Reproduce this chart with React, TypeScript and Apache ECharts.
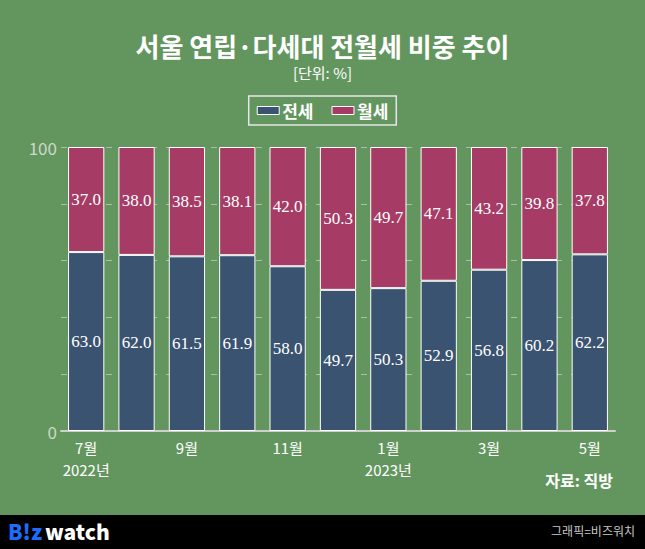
import React, { useEffect, useRef } from "react";
import * as echarts from "echarts";

const categories = ["7월\n2022년", "8월", "9월", "10월", "11월", "12월", "1월\n2023년", "2월", "3월", "4월", "5월"];
const jeonse = [63.0, 62.0, 61.5, 61.9, 58.0, 49.7, 50.3, 52.9, 56.8, 60.2, 62.2];
const wolse = [37.0, 38.0, 38.5, 38.1, 42.0, 50.3, 49.7, 47.1, 43.2, 39.8, 37.8];
const yTickLabels = ["0", "100"];

const BG = "#63965e";
const BLUE = "#3a5370";
const MAGENTA = "#a63c65";
const SANS = "'Noto Sans CJK KR', 'Noto Sans', sans-serif";
const SERIF = "'Liberation Serif', 'DejaVu Serif', serif";

export default function App() {
  const ref = useRef<HTMLDivElement>(null);
  useEffect(() => {
    if (!ref.current) return;
    const chart = echarts.init(ref.current, null, { renderer: "svg" });
    const labelStyle = {
      show: true,
      position: "inside",
      color: "#ffffff",
      fontFamily: SERIF,
      fontSize: 17,
      formatter: (p: any) => Number(p.value).toFixed(1),
    };
    chart.setOption({
      animation: false,
      backgroundColor: BG,
      title: {
        text: "서울 연립·다세대 전월세 비중 추이",
        subtext: "[단위: %]",
        left: "center",
        top: 27,
        itemGap: 7,
        textStyle: { color: "#ffffff", fontFamily: SANS, fontWeight: "bold", fontSize: 26 },
        subtextStyle: { color: "#ffffff", fontFamily: SANS, fontSize: 15 },
      },
      legend: {
        top: 96,
        left: "center",
        data: ["전세", "월세"],
        icon: "rect",
        itemWidth: 22,
        itemHeight: 8,
        itemGap: 18,
        borderColor: "#e6e6e6",
        borderWidth: 1.5,
        padding: [6, 8, 6, 8],
        textStyle: { color: "#ffffff", fontFamily: SANS, fontWeight: "bold", fontSize: 17, padding: [0, 0, 0, -2] },
        itemStyle: { borderColor: "#ffffff", borderWidth: 1 },
      },
      grid: { left: 61, right: 30, top: 147, bottom: 118 },
      xAxis: {
        type: "category",
        data: categories,
        axisLine: { show: true, lineStyle: { color: "#cfcfcf", width: 2 } },
        axisTick: { show: false },
        axisLabel: {
          interval: 1,
          color: "#ffffff",
          fontFamily: SANS,
          fontSize: 15,
          lineHeight: 22,
          margin: 5,
        },
      },
      yAxis: {
        type: "value",
        min: 0,
        max: 100,
        interval: 20,
        axisLine: { show: false },
        axisTick: { show: false },
        splitLine: { show: true, lineStyle: { color: "rgba(220,220,220,0.6)", type: [6, 9], width: 1 } },
        axisLabel: {
          color: "#cdd9c9",
          fontFamily: SANS,
          fontSize: 17,
          margin: 4,
          formatter: (v: number) => (yTickLabels.includes(String(v)) ? String(v) : ""),
        },
      },
      series: [
        {
          name: "전세",
          type: "bar",
          stack: "total",
          data: jeonse,
          barWidth: "72%",
          itemStyle: { color: BLUE, borderColor: "#ffffff", borderWidth: 1 },
          label: labelStyle,
        },
        {
          name: "월세",
          type: "bar",
          stack: "total",
          data: wolse,
          barWidth: "72%",
          itemStyle: { color: MAGENTA, borderColor: "#ffffff", borderWidth: 1 },
          label: labelStyle,
        },
      ],
      graphic: [
        {
          type: "text",
          right: 32,
          top: 472,
          style: { text: "자료: 직방", fill: "#ffffff", font: `bold 16px ${SANS}` },
        },
        {
          type: "rect",
          left: 0,
          top: 515,
          shape: { x: 0, y: 0, width: 645, height: 34 },
          style: { fill: "#000000" },
        },
        {
          type: "text",
          left: 8,
          top: 520,
          style: { text: "B!z", fill: "#1a6dff", font: `900 21px ${SANS}` },
        },
        {
          type: "text",
          left: 45,
          top: 520,
          style: { text: "watch", fill: "#ffffff", font: `900 21px ${SANS}` },
        },
        {
          type: "text",
          right: 10,
          top: 524,
          style: { text: "그래픽=비즈워치", fill: "#c8c8c8", font: `12px ${SANS}` },
        },
      ],
    });
    return () => chart.dispose();
  }, []);
  return <div ref={ref} style={{ position: "absolute", left: 0, top: 0, width: 645, height: 549 }} />;
}
